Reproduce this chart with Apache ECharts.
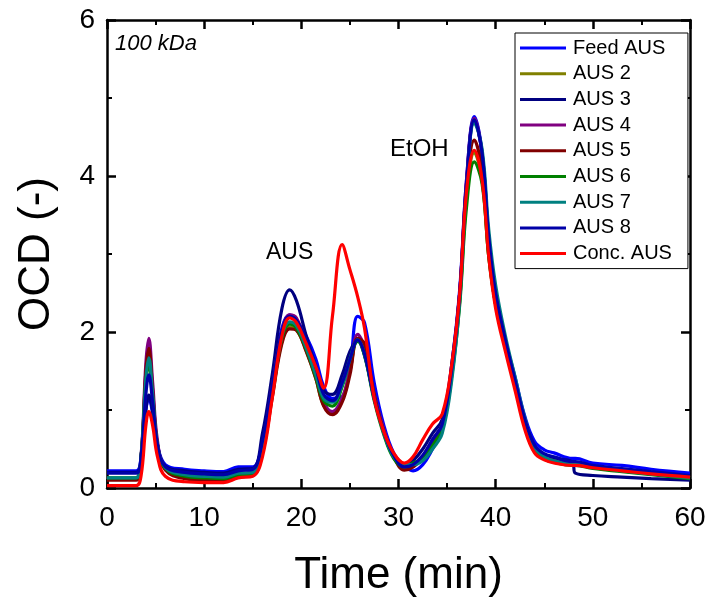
<!DOCTYPE html>
<html>
<head>
<meta charset="utf-8">
<script src="https://cdn.jsdelivr.net/npm/echarts@6/dist/echarts.min.js"></script>
<style>html,body{margin:0;padding:0;background:#fff}#c{width:713px;height:603px}</style>
</head>
<body>
<div id="c"></div>
<script>
// Time axis (min)
const T = [0, 3, 3.5, 4, 4.3, 4.7, 5.2, 6, 8, 10, 12, 13.5, 15,
  16, 17, 18, 18.8, 19.5, 20.5, 21.5, 22.3, 23.2, 24.2, 25, 25.8, 26.5, 27.5, 28.5, 29.5, 30.6, 31.5, 32.5, 33.5, 34.5,
  35.5, 36.3, 37, 37.8, 38.6, 39.3, 40, 41, 42, 43, 44, 45, 46, 47.9, 48.2, 50, 53, 56, 60];

const seriesNames = ["Feed AUS", "AUS 2", "AUS 3", "AUS 4", "AUS 5", "AUS 6", "AUS 7", "AUS 8", "Conc. AUS"];
const seriesColors = ["#0000FF", "#808000", "#000080", "#800080", "#800000", "#008000", "#008080", "#0000A8", "#FF0000"];

const feedAUS = [0.22, 0.22, 0.4, 1.0, 1.15, 0.95, 0.55, 0.3, 0.24, 0.22, 0.21, 0.27, 0.27,
  0.6, 1.35, 2.05, 2.22, 2.15, 1.95, 1.65, 1.3, 1.15, 1.17, 1.55, 2.2, 2.12, 1.35, 0.8, 0.45, 0.28, 0.22, 0.3, 0.5, 0.75,
  1.6, 2.55, 3.95, 4.76, 4.3, 3.2, 2.5, 1.9, 1.42, 0.92, 0.6, 0.49, 0.45, 0.38, 0.38, 0.32, 0.29, 0.24, 0.19];
const aus2 = [0.12, 0.12, 0.38, 1.45, 1.72, 1.2, 0.55, 0.24, 0.14, 0.11, 0.1, 0.15, 0.17,
  0.48, 1.18, 1.88, 2.06, 2.03, 1.76, 1.4, 1.06, 0.97, 1.15, 1.5, 1.9, 1.8, 1.18, 0.72, 0.4, 0.25, 0.3, 0.4, 0.58, 0.78,
  1.5, 2.4, 3.7, 4.3, 3.95, 2.95, 2.35, 1.8, 1.3, 0.8, 0.48, 0.38, 0.34, 0.3, 0.3, 0.26, 0.22, 0.18, 0.13];
const aus3 = [0.2, 0.2, 0.38, 1.0, 1.19, 0.98, 0.55, 0.28, 0.22, 0.2, 0.19, 0.24, 0.25,
  0.7, 1.45, 2.3, 2.54, 2.4, 1.95, 1.55, 1.25, 1.2, 1.45, 1.75, 1.9, 1.7, 1.15, 0.72, 0.42, 0.27, 0.35, 0.5, 0.7, 0.88,
  1.6, 2.5, 3.9, 4.72, 4.28, 3.15, 2.45, 1.85, 1.35, 0.85, 0.52, 0.42, 0.38, 0.33, 0.19, 0.16, 0.14, 0.12, 0.1];
const aus4 = [0.11, 0.11, 0.4, 1.6, 1.92, 1.35, 0.6, 0.25, 0.14, 0.11, 0.1, 0.15, 0.17,
  0.55, 1.3, 2.0, 2.22, 2.18, 1.85, 1.45, 1.1, 0.98, 1.15, 1.5, 1.97, 1.8, 1.2, 0.75, 0.42, 0.25, 0.27, 0.4, 0.62, 0.82,
  1.55, 2.5, 3.95, 4.74, 4.28, 3.15, 2.45, 1.85, 1.32, 0.82, 0.5, 0.4, 0.35, 0.31, 0.31, 0.27, 0.23, 0.19, 0.14];
const aus5 = [0.1, 0.1, 0.38, 1.5, 1.79, 1.25, 0.55, 0.23, 0.12, 0.1, 0.09, 0.14, 0.16,
  0.45, 1.15, 1.85, 2.04, 2.02, 1.75, 1.4, 1.05, 0.94, 1.1, 1.45, 1.92, 1.85, 1.2, 0.72, 0.4, 0.23, 0.27, 0.4, 0.6, 0.8,
  1.55, 2.45, 3.8, 4.46, 4.05, 3.0, 2.35, 1.8, 1.3, 0.8, 0.48, 0.38, 0.34, 0.3, 0.3, 0.26, 0.22, 0.18, 0.13];
const aus6 = [0.13, 0.13, 0.38, 1.35, 1.6, 1.15, 0.52, 0.25, 0.15, 0.13, 0.12, 0.17, 0.18,
  0.5, 1.2, 1.92, 2.1, 2.05, 1.78, 1.42, 1.12, 1.05, 1.3, 1.65, 1.88, 1.7, 1.12, 0.68, 0.38, 0.27, 0.32, 0.38, 0.55, 0.75,
  1.45, 2.35, 3.6, 4.18, 3.9, 2.95, 2.35, 1.8, 1.3, 0.8, 0.47, 0.37, 0.33, 0.29, 0.29, 0.25, 0.21, 0.17, 0.12];
const aus7 = [0.13, 0.13, 0.4, 1.4, 1.67, 1.2, 0.55, 0.26, 0.17, 0.15, 0.14, 0.19, 0.2,
  0.52, 1.22, 1.95, 2.13, 2.08, 1.8, 1.45, 1.15, 1.1, 1.32, 1.65, 1.9, 1.72, 1.15, 0.7, 0.4, 0.3, 0.3, 0.35, 0.5, 0.7,
  1.4, 2.4, 3.85, 4.68, 4.35, 3.3, 2.6, 1.95, 1.42, 0.9, 0.52, 0.4, 0.35, 0.31, 0.31, 0.27, 0.22, 0.18, 0.13];
const aus8 = [0.19, 0.19, 0.4, 1.2, 1.45, 1.1, 0.55, 0.27, 0.2, 0.18, 0.17, 0.22, 0.24,
  0.6, 1.3, 2.0, 2.2, 2.15, 1.9, 1.55, 1.2, 1.12, 1.35, 1.65, 1.9, 1.72, 1.15, 0.72, 0.42, 0.27, 0.3, 0.42, 0.62, 0.82,
  1.55, 2.5, 3.9, 4.72, 4.3, 3.2, 2.5, 1.9, 1.38, 0.88, 0.55, 0.44, 0.4, 0.34, 0.34, 0.29, 0.25, 0.21, 0.16];
const concAUS = [0.03, 0.03, 0.15, 0.8, 0.98, 0.8, 0.4, 0.15, 0.08, 0.07, 0.07, 0.13, 0.15,
  0.4, 1.15, 1.95, 2.18, 2.12, 1.85, 1.55, 1.28, 2.2, 3.12, 2.8, 2.45, 2.05, 1.15, 0.72, 0.45, 0.32, 0.4, 0.62, 0.82, 0.95,
  1.6, 2.5, 3.8, 4.33, 3.95, 2.95, 2.3, 1.75, 1.25, 0.75, 0.45, 0.36, 0.32, 0.29, 0.29, 0.26, 0.22, 0.18, 0.14];

const allValues = [feedAUS, aus2, aus3, aus4, aus5, aus6, aus7, aus8, concAUS];

const xTicks = [0, 10, 20, 30, 40, 50, 60];
const yTicks = [0, 2, 4, 6];

const FONT = "Liberation Sans, Arial, sans-serif";
const chart = echarts.init(document.getElementById('c'), null, {renderer: 'canvas'});

function axisCommon(showLabel) {
  return {
    axisLine: {show: true, onZero: false, lineStyle: {color: '#000', width: 2.5}},
    axisTick: {show: true, inside: true, length: 9, lineStyle: {color: '#000', width: 2.5}},
    minorTick: {show: true, splitNumber: 2, length: 5, lineStyle: {color: '#000', width: 2}},
    splitLine: {show: false},
    minorSplitLine: {show: false},
    axisLabel: {show: showLabel, color: '#000', fontSize: 28, fontFamily: FONT}
  };
}

const option = {
  backgroundColor: '#fff',
  animation: false,
  grid: {left: 107, right: 23, top: 20, bottom: 115, containLabel: false},
  xAxis: [
    Object.assign({type: 'value', min: xTicks[0], max: xTicks[xTicks.length - 1], interval: 10, position: 'bottom',
      name: 'Time (min)', nameLocation: 'middle', nameGap: 66,
      nameTextStyle: {fontSize: 44, fontFamily: FONT, color: '#000'}}, axisCommon(true),
      {axisLabel: {show: true, color: '#000', fontSize: 28, fontFamily: FONT, margin: 16}}),
    Object.assign({type: 'value', min: 0, max: 60, interval: 10, position: 'top'}, axisCommon(false))
  ],
  yAxis: [
    Object.assign({type: 'value', min: yTicks[0], max: yTicks[yTicks.length - 1], interval: 2, position: 'left',
      name: 'OCD (-)', nameLocation: 'middle', nameGap: 48, nameRotate: 90,
      nameTextStyle: {fontSize: 44, fontFamily: FONT, color: '#000'}}, axisCommon(true),
      {axisLabel: {show: true, color: '#000', fontSize: 28, fontFamily: FONT, margin: 12}}),
    Object.assign({type: 'value', min: 0, max: 6, interval: 2, position: 'right'}, axisCommon(false))
  ],
  legend: {
    orient: 'vertical',
    left: 515, top: 33,
    backgroundColor: '#fff',
    borderColor: '#000', borderWidth: 1,
    padding: [4, 16, 4, 5],
    itemWidth: 46, itemHeight: 3, itemGap: 3.7,
    icon: 'rect',
    textStyle: {fontSize: 20, lineHeight: 22, fontFamily: FONT, color: '#000', padding: [0, 0, 0, 2]},
    data: seriesNames
  },
  graphic: [
    {type: 'text', left: 115, top: 33, style: {text: '100 kDa', font: 'italic 22px ' + FONT, fill: '#000'}},
    {type: 'text', left: 266, top: 241, style: {text: 'AUS', font: '23px ' + FONT, fill: '#000'}},
    {type: 'text', left: 390, top: 137, style: {text: 'EtOH', font: '24px ' + FONT, fill: '#000'}}
  ],
  series: seriesNames.map((name, k) => ({
    name: name,
    type: 'line',
    xAxisIndex: 0, yAxisIndex: 0,
    data: T.map((t, i) => [t, allValues[k][i]]),
    showSymbol: false, symbol: 'none',
    smooth: 0.4,
    color: seriesColors[k],
    lineStyle: {width: 3.2, color: seriesColors[k]},
    z: 2 + k
  }))
};
chart.setOption(option);
</script>
</body>
</html>
